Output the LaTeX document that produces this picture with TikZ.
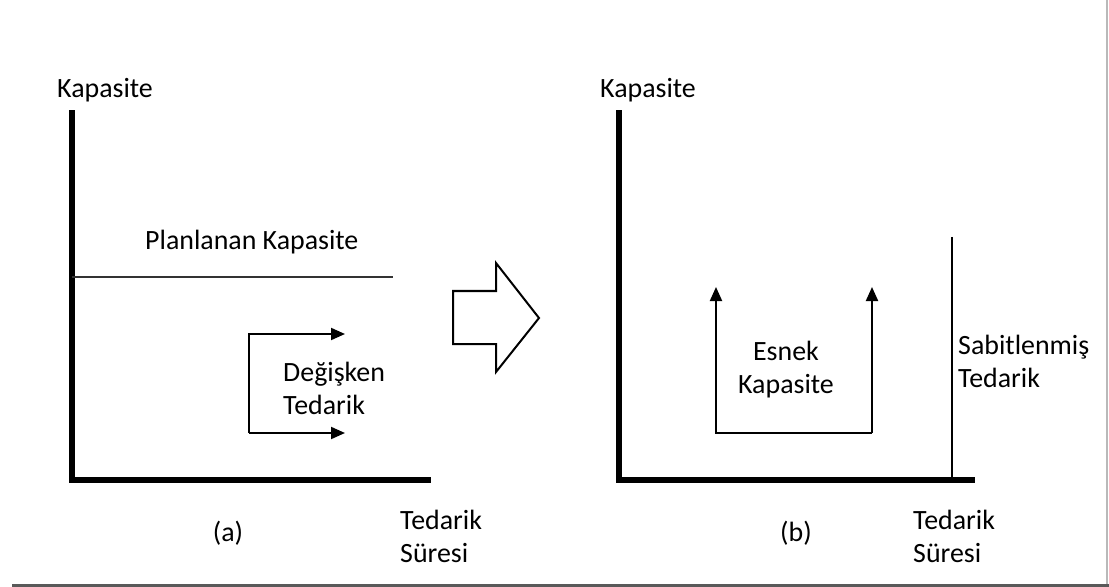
\documentclass[tikz,border=0pt]{standalone}
\usepackage{fontspec}
\setmainfont{Carlito}
\usetikzlibrary{arrows.meta}
\tikzset{
  axis/.style={line width=6bp, line cap=rect},
  thin/.style={line width=2bp},
  arr/.style={line width=2bp, -{Triangle[length=14bp,width=12bp]}},
  lbl/.style={inner sep=0pt, font=\fontsize{28}{33}\selectfont},
}
\begin{document}
\begin{tikzpicture}[x=1bp,y=-1bp]
\useasboundingbox (0,0) rectangle (1109,587);
\fill[white] (0,0) rectangle (1109,587);
% frame lines
\coordinate (fr1) at (1106.5,0);
\coordinate (fr2) at (1106.5,587);
\coordinate (fb1) at (12,585.5);
\coordinate (fb2) at (1109,585.5);
\draw[line width=2bp, gray!55] (fr1) -- (fr2);
\draw[line width=2.2bp, black!65] (fb1) -- (fb2);

% ---------- panel (a) ----------
\coordinate (aT) at (71.5,113);
\coordinate (aO) at (71.5,480);
\coordinate (aR) at (428,480);
\draw[axis] (aT) -- (aO) -- (aR);
\node[lbl, anchor=base west] (ka) at (57,98) {Kapasite};
\coordinate (pl1) at (72,277);
\coordinate (pl2) at (393,277);
\draw[thin, black!80] (pl1) -- (pl2);
\node[lbl, anchor=base west] (pk) at (145,250) {Planlanan Kapasite};
\coordinate (d1) at (249,334);
\coordinate (d2) at (249,433);
\coordinate (d1e) at (345,334);
\coordinate (d2e) at (345,433);
\draw[arr] (d2) -- (d1) -- (d1e);
\draw[arr] (d2) -- (d2e);
\node[lbl, anchor=base west, align=left] (dt) at (283,414) {Değişken\\Tedarik};
\node[lbl, anchor=base] (la) at (228,541) {(a)};
\node[lbl, anchor=base west, align=left] (ts1) at (400,562) {Tedarik\\Süresi};

% ---------- big hollow arrow ----------
\draw[line width=2bp, line join=miter] (453,291) -- (496,291) -- (496,263) -- (539,318)
  -- (496,372) -- (496,344) -- (453,344) -- cycle;

% ---------- panel (b) ----------
\coordinate (bT) at (619,113);
\coordinate (bO) at (619,480);
\coordinate (bR) at (972,480);
\draw[axis] (bT) -- (bO) -- (bR);
\node[lbl, anchor=base west] (kb) at (600,98) {Kapasite};
\coordinate (e1) at (716,433);
\coordinate (e2) at (872,433);
\coordinate (e1t) at (716,287);
\coordinate (e2t) at (872,287);
\draw[arr] (e2) -- (e1) -- (e1t);
\draw[arr] (e2) -- (e2t);
\node[lbl, anchor=base, align=center] (ek) at (786,393) {Esnek\\Kapasite};
\coordinate (s1) at (952,237);
\coordinate (s2) at (952,478);
\draw[line width=2.5bp] (s1) -- (s2);
\node[lbl, anchor=base west, align=left] (st) at (958,387) {Sabitlenmiş\\Tedarik};
\node[lbl, anchor=base] (lb) at (796,541) {(b)};
\node[lbl, anchor=base west, align=left] (ts2) at (913,562) {Tedarik\\Süresi};
\end{tikzpicture}
\end{document}
